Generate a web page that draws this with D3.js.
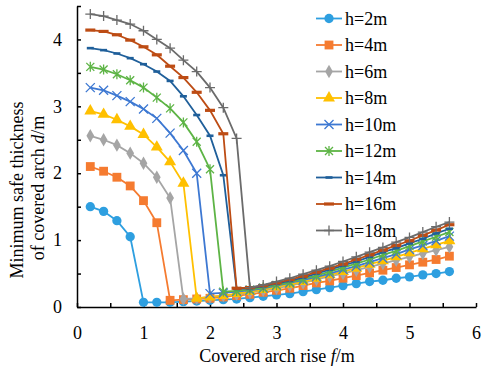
<!DOCTYPE html>
<html>
<head>
<meta charset="utf-8">
<script src="https://cdn.jsdelivr.net/npm/d3@7"></script>
<style>
body { margin: 0; background: #fff; }
svg text { font-family: "Liberation Serif", "Times New Roman", serif; fill: #000; }
</style>
</head>
<body>
<svg width="484" height="368"></svg>
<script>
// covered arch rise f (m)
var riseX = [0.2, 0.4, 0.6, 0.8, 1.0, 1.2, 1.4, 1.6, 1.8, 2.0, 2.2, 2.4, 2.6, 2.8,
             3.0, 3.2, 3.4, 3.6, 3.8, 4.0, 4.2, 4.4, 4.6, 4.8, 5.0, 5.2, 5.4, 5.6];

// minimum safe thickness d (m), one array per burial depth h
var h2  = [1.50, 1.43, 1.29, 1.05, 0.07, 0.07, 0.07, 0.08, 0.09, 0.10, 0.11, 0.12, 0.14, 0.16,
           0.18, 0.20, 0.23, 0.26, 0.29, 0.32, 0.35, 0.38, 0.40, 0.43, 0.45, 0.48, 0.50, 0.53];
var h4  = [2.10, 2.03, 1.94, 1.81, 1.59, 1.26, 0.10, 0.11, 0.12, 0.13, 0.15, 0.17, 0.19, 0.22,
           0.25, 0.28, 0.32, 0.36, 0.39, 0.43, 0.47, 0.51, 0.55, 0.59, 0.63, 0.67, 0.71, 0.76];
var h6  = [2.56, 2.50, 2.42, 2.30, 2.15, 1.94, 1.63, 0.12, 0.13, 0.15, 0.17, 0.19, 0.22, 0.25,
           0.28, 0.32, 0.36, 0.41, 0.46, 0.50, 0.55, 0.60, 0.65, 0.70, 0.75, 0.80, 0.85, 0.90];
var h8  = [2.93, 2.88, 2.80, 2.70, 2.58, 2.39, 2.17, 1.85, 0.13, 0.15, 0.17, 0.20, 0.23, 0.26,
           0.30, 0.34, 0.38, 0.43, 0.48, 0.53, 0.58, 0.64, 0.69, 0.75, 0.81, 0.87, 0.93, 0.99];
var h10 = [3.28, 3.24, 3.16, 3.07, 2.96, 2.82, 2.60, 2.34, 2.00, 0.20, 0.21, 0.23, 0.25, 0.28,
           0.32, 0.36, 0.40, 0.45, 0.50, 0.56, 0.61, 0.67, 0.73, 0.79, 0.86, 0.92, 0.99, 1.06];
var h12 = [3.59, 3.55, 3.48, 3.39, 3.28, 3.13, 2.97, 2.76, 2.47, 2.06, 0.23, 0.24, 0.26, 0.29,
           0.33, 0.37, 0.42, 0.47, 0.53, 0.59, 0.65, 0.71, 0.78, 0.84, 0.91, 0.98, 1.05, 1.12];
var h14 = [3.87, 3.84, 3.79, 3.72, 3.63, 3.52, 3.38, 3.15, 2.87, 2.56, 1.97, 0.27, 0.28, 0.31,
           0.35, 0.39, 0.44, 0.50, 0.56, 0.62, 0.68, 0.75, 0.82, 0.88, 0.95, 1.02, 1.10, 1.17];
var h16 = [4.14, 4.12, 4.07, 3.99, 3.89, 3.77, 3.60, 3.43, 3.21, 2.94, 2.59, 0.28, 0.29, 0.32,
           0.36, 0.41, 0.46, 0.52, 0.58, 0.64, 0.71, 0.78, 0.85, 0.92, 0.99, 1.07, 1.15, 1.23];
var h18 = [4.38, 4.35, 4.29, 4.23, 4.13, 4.00, 3.87, 3.69, 3.52, 3.28, 2.98, 2.52, 0.29, 0.33,
           0.38, 0.43, 0.49, 0.55, 0.61, 0.68, 0.75, 0.82, 0.89, 0.97, 1.04, 1.12, 1.20, 1.27];

var seriesNames = ["h=2m", "h=4m", "h=6m", "h=8m", "h=10m", "h=12m", "h=14m", "h=16m", "h=18m"];
var seriesValues = [h2, h4, h6, h8, h10, h12, h14, h16, h18];
var seriesColors = ["#2E9FE0", "#F57B30", "#A5A5A5", "#FFC000", "#3D78D2", "#5DB445", "#1F5F9A", "#BD4C14", "#6B6B6B"];
var seriesMarkers = ["circle", "square", "diamond", "triangle", "cross", "star", "dash", "dashBig", "plus"];

var xTicks = [0, 0.5, 1, 1.5, 2, 2.5, 3, 3.5, 4, 4.5, 5, 5.5, 6];
var yTicks = [0, 0.5, 1, 1.5, 2, 2.5, 3, 3.5, 4, 4.5];

var svg = d3.select("svg");
var x = d3.scaleLinear().domain([0, 6]).range([77, 476]);
var y = d3.scaleLinear().domain([0, 4.5]).range([307, 6]);

function markerPath(type) {
  switch (type) {
    case "circle": return d3.symbol(d3.symbolCircle, 68)();
    case "square": return d3.symbol(d3.symbolSquare, 78)();
    case "diamond": return d3.symbol(d3.symbolDiamond, 52)();
    case "triangle": return d3.symbol(d3.symbolTriangle, 62)();
    case "cross": return "M-4.5,-4.5L4.5,4.5M-4.5,4.5L4.5,-4.5";
    case "star": return "M-4,-4L4,4M-4,4L4,-4M0,-5L0,5";
    case "plus": return "M-5,0L5,0M0,-5L0,5";
    case "dash": return "M-3.5,-1.3L3.5,-1.3L3.5,1.3L-3.5,1.3Z";
    case "dashBig": return "M-5,-1.6L5,-1.6L5,1.6L-5,1.6Z";
  }
}
function styleMarker(sel, type, color) {
  var stroked = type === "cross" || type === "star" || type === "plus";
  sel.attr("d", markerPath(type))
    .attr("fill", stroked ? "none" : color)
    .attr("stroke", stroked ? color : "none")
    .attr("stroke-width", stroked ? 1.3 : 0);
}

// axes
var xAxis = d3.axisBottom(x).tickValues(xTicks).tickSize(-4).tickSizeOuter(0).tickPadding(19)
  .tickFormat(function(d) { return d % 1 === 0 ? d : ""; });
var yAxis = d3.axisLeft(y).tickValues(yTicks).tickSize(-4).tickSizeOuter(0).tickPadding(15)
  .tickFormat(function(d) { return d % 1 === 0 ? d : ""; });

var gx = svg.append("g").attr("transform", "translate(0,307)").call(xAxis);
var gy = svg.append("g").attr("transform", "translate(77,0)").call(yAxis);
[gx, gy].forEach(function(g) {
  g.selectAll("path, line").attr("stroke", "#000").attr("stroke-width", 1.5);
  g.selectAll("text").attr("font-size", 18).attr("font-family", null).attr("fill", "#000");
});

// series
var line = d3.line().x(function(d) { return x(d[0]); }).y(function(d) { return y(d[1]); });
seriesValues.forEach(function(vals, i) {
  var pts = riseX.map(function(r, j) { return [r, vals[j]]; });
  var g = svg.append("g");
  g.append("path").datum(pts).attr("d", line)
    .attr("fill", "none").attr("stroke", seriesColors[i]).attr("stroke-width", 1.8);
  g.selectAll(".m").data(pts).enter().append("path")
    .attr("transform", function(d) { return "translate(" + x(d[0]) + "," + y(d[1]) + ")"; })
    .call(styleMarker, seriesMarkers[i], seriesColors[i]);
});

// legend
var legend = svg.append("g");
seriesNames.forEach(function(name, i) {
  var cy = 18.5 + i * 26.5;
  legend.append("line").attr("x1", 316).attr("x2", 342).attr("y1", cy).attr("y2", cy)
    .attr("stroke", seriesColors[i]).attr("stroke-width", 1.8);
  legend.append("path").attr("transform", "translate(329," + cy + ")")
    .call(styleMarker, seriesMarkers[i], seriesColors[i]);
  legend.append("text").attr("x", 345).attr("y", cy + 6).attr("font-size", 18).text(name);
});

// axis titles
var xt = svg.append("text").attr("x", 277).attr("y", 362).attr("text-anchor", "middle").attr("font-size", 18);
xt.append("tspan").text("Covered arch rise ");
xt.append("tspan").attr("font-style", "italic").text("f");
xt.append("tspan").text("/m");

var yt1 = svg.append("text").attr("transform", "translate(23,190) rotate(-90)")
  .attr("text-anchor", "middle").attr("font-size", 18).text("Minimum safe thickness");
var yt2 = svg.append("text").attr("transform", "translate(44,188) rotate(-90)")
  .attr("text-anchor", "middle").attr("font-size", 18);
yt2.append("tspan").text("of covered arch ");
yt2.append("tspan").attr("font-style", "italic").text("d");
yt2.append("tspan").text("/m");
</script>
</body>
</html>
